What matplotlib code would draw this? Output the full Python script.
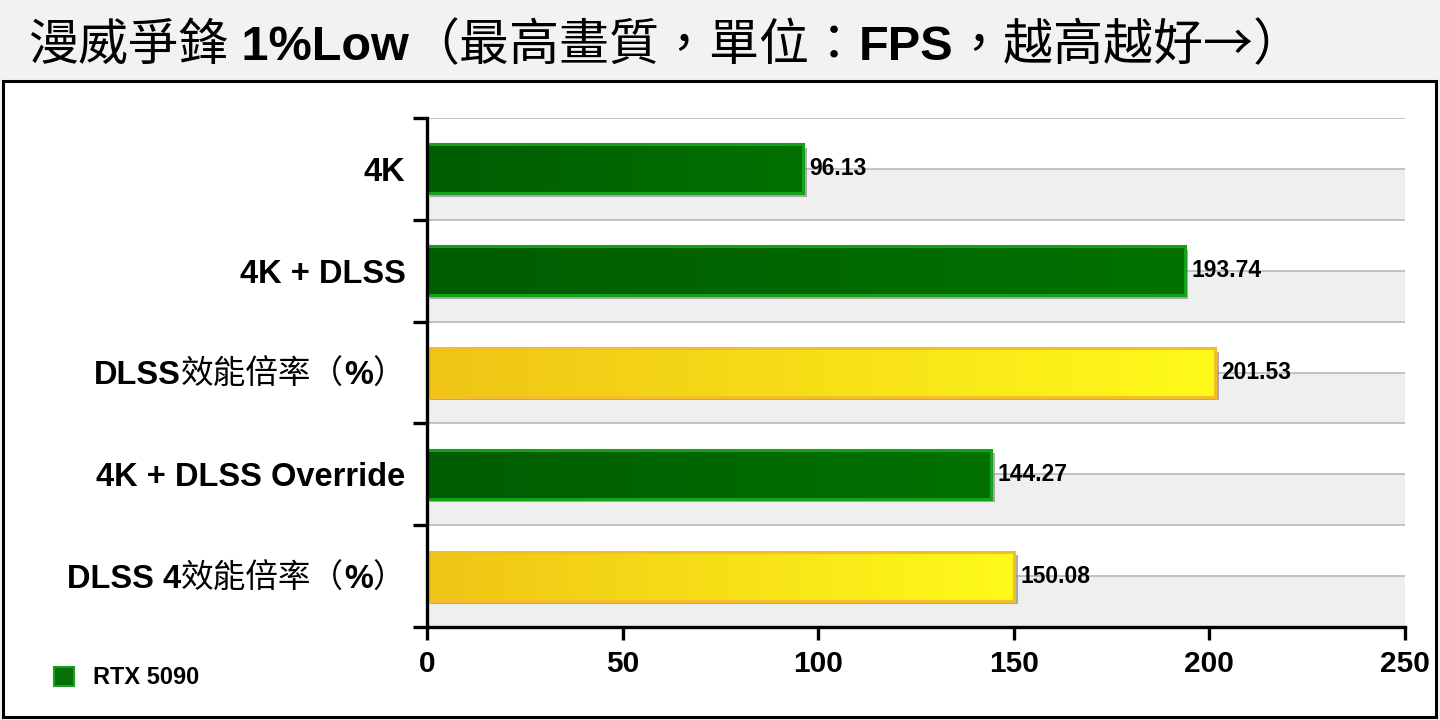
import numpy as np
import matplotlib
matplotlib.use('Agg')
import matplotlib.pyplot as plt
import matplotlib.patheffects as pe
from matplotlib.colors import LinearSegmentedColormap
from matplotlib.patches import Rectangle, Patch

# ------------------------------------------------------------------------------
# Data
# ------------------------------------------------------------------------------
categories = ['4K', '4K + DLSS', 'DLSS效能倍率（%）', '4K + DLSS Override',
              'DLSS 4效能倍率（%）']
values = [96.13, 193.74, 201.53, 144.27, 150.08]
is_ratio = [False, False, True, False, True]
x_ticks = [0, 50, 100, 150, 200, 250]
legend_label = 'RTX 5090'
title = '漫威爭鋒 1%Low（最高畫質，單位：FPS，越高越好→）'

# ------------------------------------------------------------------------------
# Fonts
# ------------------------------------------------------------------------------
bold_kw = dict(family='Liberation Sans', weight='bold')
cjk_kw = dict(family=['Noto Sans CJK TC', 'DejaVu Sans'], weight='normal')


def segments(s):
    # Split text into runs of ASCII (bold) and CJK (regular)
    segs = []
    for ch in s:
        b = ord(ch) < 128
        if segs and segs[-1][1] == b:
            segs[-1][0] += ch
        else:
            segs.append([ch, b])
    return segs


W, H = 1440, 720
fig = plt.figure(figsize=(14.4, 7.2), dpi=100, facecolor='#f2f2f2')

# White chart panel with black frame
fig.add_artist(Rectangle((3 / W, 3 / H), 1433 / W, 636 / H,
                         transform=fig.transFigure, facecolor='white',
                         edgecolor='black', lw=2.2, zorder=-1))

ax = fig.add_axes([427 / W, 1 - 627 / H, (1405 - 427) / W, (627 - 118) / H])
ax.set_facecolor('white')

n = len(categories)
ax.set_xlim(0, 250)
ax.set_ylim(n - 0.5, -0.5)

# Background stripes and grid lines
for i in range(n):
    ax.axhspan(i, i + 0.5, color='#efefef', lw=0, zorder=0)
for y in np.arange(-0.5, n, 0.5):
    ax.axhline(y, color='#bdbdbd', lw=1.3, zorder=1)

# Bars with gradient fill
grad = np.linspace(0, 1, 256).reshape(1, -1)
green_cmap = LinearSegmentedColormap.from_list('g', ['#005c00', '#007200'])
yellow_cmap = LinearSegmentedColormap.from_list('y', ['#efc415', '#fffb1a'])
h = 0.48
for i, (v, r) in enumerate(zip(values, is_ratio)):
    bar = ax.barh(i, v, height=h, color='#f5dc18' if r else '#006800',
                  lw=0, zorder=3)[0]
    bar.set_path_effects([pe.SimplePatchShadow(offset=(2.5, -2.5),
                                               shadow_rgbFace='#7a7a7a',
                                               alpha=0.6), pe.Normal()])
    im = ax.imshow(grad, extent=(0, v, i + h / 2, i - h / 2),
                   cmap=yellow_cmap if r else green_cmap, aspect='auto',
                   zorder=3.5)
    im.set_clip_path(bar)
    ax.barh(i, v, height=h, facecolor='none',
            edgecolor='#f4bd2a' if r else '#17a01a', lw=2.2, zorder=4)
    ax.annotate(f'{v:.2f}', xy=(v, i), xytext=(4.5, 0),
                textcoords='offset points', ha='left', va='center',
                fontsize=16.5, zorder=5, **bold_kw)

ax.set_xlim(0, 250)
ax.set_ylim(n - 0.5, -0.5)

# Axes styling
for s in ['top', 'right']:
    ax.spines[s].set_visible(False)
for s in ['left', 'bottom']:
    ax.spines[s].set_linewidth(2.4)
    ax.spines[s].set_zorder(6)
ax.set_xticks(x_ticks)
ax.set_xticklabels([str(t) for t in x_ticks], fontsize=21.5, **bold_kw)
ax.tick_params(axis='x', length=9.5, width=2.4, pad=7)
ax.set_yticks(np.arange(-0.5, n, 1.0))
ax.set_yticklabels([])
ax.tick_params(axis='y', length=10, width=2.4)

# Category labels (bold Latin, regular CJK)
for i, lab in enumerate(categories):
    prev = None
    for txt, b in reversed(segments(lab)):
        kw = bold_kw if b else cjk_kw
        if prev is None:
            prev = ax.annotate(txt, xy=(0, i),
                               xycoords=('axes fraction', 'data'),
                               xytext=(-15.5, -8.5), textcoords='offset points',
                               ha='right', va='baseline', fontsize=23.5,
                               annotation_clip=False, **kw)
        else:
            prev = ax.annotate(txt, xy=(0, i), xycoords=(prev, 'data'),
                               xytext=(0, -8.5), textcoords='offset points',
                               ha='right', va='baseline', fontsize=23.5,
                               annotation_clip=False, **kw)

# Title (bold Latin, regular CJK)
prev = fig.text(28 / W, 1 - 60 / H, '', fontsize=36)
for txt, b in segments(title):
    kw = bold_kw if b else cjk_kw
    size = 35 if b else 36
    prev = ax.annotate(txt, xy=(1, 1 - 60 / H),
                       xycoords=(prev, 'figure fraction'),
                       ha='left', va='baseline', fontsize=size,
                       annotation_clip=False, **kw)

# Legend
handle = Patch(facecolor='#0a6e0a', edgecolor='#1aa01a', lw=1.5)
fig.legend([handle], [legend_label], loc='center left',
           bbox_to_anchor=(54 / W, 1 - 678 / H), frameon=False,
           prop=dict(size=17, **bold_kw), handlelength=0.85,
           handleheight=0.85, handletextpad=0.8, borderpad=0,
           borderaxespad=0)

fig.savefig('out.png', dpi=100, facecolor=fig.get_facecolor())
